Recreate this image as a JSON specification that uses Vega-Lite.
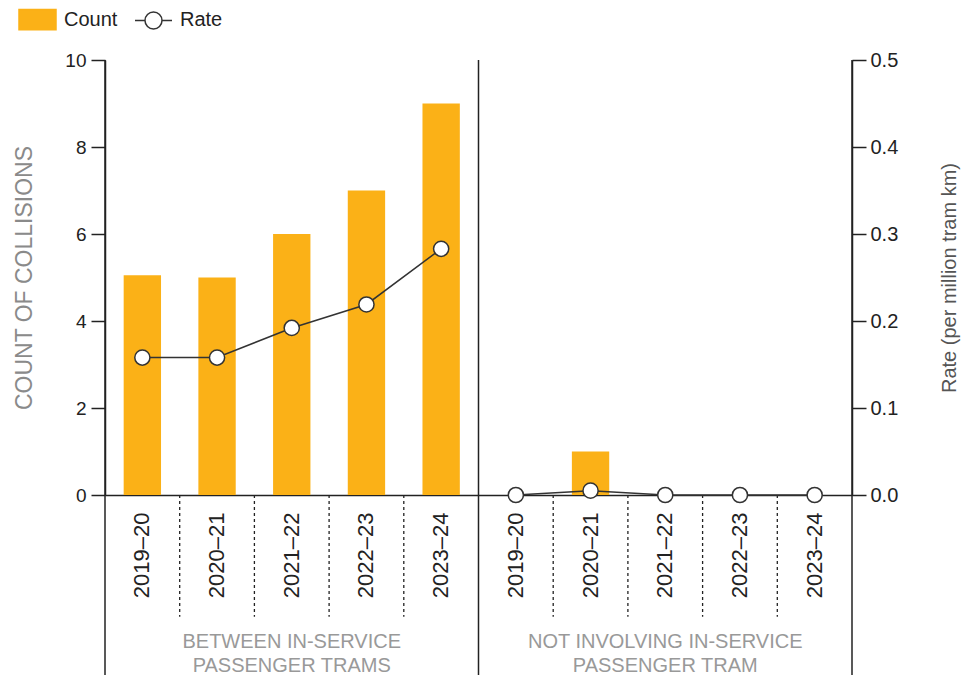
{
  "$schema": "https://vega.github.io/schema/vega-lite/v6.json",
  "width": 747,
  "height": 435,
  "autosize": {"type": "none"},
  "padding": {"left": 105, "top": 60, "right": 112, "bottom": 180},
  "background": "white",
  "config": {
    "view": {"stroke": null},
    "font": "Liberation Sans",
    "axis": {"grid": false, "domainColor": "#222222", "tickColor": "#222222", "domainWidth": 1.5, "tickWidth": 1.5, "labelColor": "#222222", "titleFontWeight": "normal"}
  },
  "data": {
    "values": [
      {"key": "B 2019–20", "count": 5.05, "rate": 0.158, "group": "B"},
      {"key": "B 2020–21", "count": 5.0, "rate": 0.158, "group": "B"},
      {"key": "B 2021–22", "count": 6.0, "rate": 0.192, "group": "B"},
      {"key": "B 2022–23", "count": 7.0, "rate": 0.219, "group": "B"},
      {"key": "B 2023–24", "count": 9.0, "rate": 0.283, "group": "B"},
      {"key": "N 2019–20", "count": 0, "rate": 0, "group": "N"},
      {"key": "N 2020–21", "count": 1, "rate": 0.005, "group": "N"},
      {"key": "N 2021–22", "count": 0, "rate": 0, "group": "N"},
      {"key": "N 2022–23", "count": 0, "rate": 0, "group": "N"},
      {"key": "N 2023–24", "count": 0, "rate": 0, "group": "N"}
    ]
  },
  "encoding": {
    "x": {
      "field": "key",
      "type": "nominal",
      "scale": {
        "domain": ["B 2019–20", "B 2020–21", "B 2021–22", "B 2022–23", "B 2023–24", "N 2019–20", "N 2020–21", "N 2021–22", "N 2022–23", "N 2023–24"],
        "paddingInner": 0,
        "paddingOuter": 0
      },
      "axis": {
        "title": null,
        "ticks": false,
        "labelAngle": 270,
        "labelAlign": "right",
        "labelBaseline": "middle",
        "labelFontSize": 22,
        "labelPadding": 17,
        "labelExpr": "substring(datum.value, 2)"
      }
    }
  },
  "layer": [
    {
      "layer": [
        {
          "mark": {"type": "bar", "width": {"band": 0.5}},
          "encoding": {
            "y": {
              "field": "count",
              "type": "quantitative",
              "scale": {"domain": [0, 10], "nice": false, "zero": true},
              "axis": {
                "orient": "left",
                "title": "COUNT OF COLLISIONS",
                "values": [0, 2, 4, 6, 8, 10],
                "tickSize": 14,
                "labelPadding": 5,
                "labelFontSize": 19,
                "titleFontSize": 23,
                "titleColor": "#8a8a8a",
                "titlePadding": 28
              }
            },
            "color": {
              "datum": "Count",
              "scale": {"domain": ["Count", "Rate"], "range": ["#FBB117", "#333333"]},
              "legend": {
                "title": null,
                "orient": "none",
                "legendX": -87,
                "legendY": -60,
                "direction": "horizontal",
                "padding": 0,
                "labelFontSize": 20,
                "labelColor": "#222222",
                "labelOffset": 7,
                "columnPadding": 14,
                "symbolSize": 1369,
                "symbolStrokeWidth": 1.5,
                "encode": {
                  "symbols": {
                    "enter": {
                      "fill": {"signal": "datum.value === 'Count' ? '#FBB117' : 'transparent'"},
                      "fillOpacity": {"signal": "datum.value === 'Count' ? 1 : 0"}
                    },
                    "update": {
                      "shape": {"signal": "datum.value === 'Count' ? 'M-1,-0.55H1V0.55H-1Z' : 'M-1,0H-0.46M0.46,0H1M-0.46,0A0.46,0.46 0 1,0 0.46,0A0.46,0.46 0 1,0 -0.46,0'"},
                      "fill": {"signal": "datum.value === 'Count' ? '#FBB117' : 'transparent'"},
                      "fillOpacity": {"signal": "datum.value === 'Count' ? 1 : 0"},
                      "stroke": {"signal": "datum.value === 'Count' ? '#FBB117' : '#333333'"},
                      "strokeWidth": {"value": 1.5},
                      "size": {"value": 1369},
                      "opacity": {"value": 1},
                      "strokeOpacity": {"value": 1}
                    }
                  }
                }
              }
            }
          }
        },
        {
          "data": {"values": [
            {"key": "B 2020–21"}, {"key": "B 2021–22"}, {"key": "B 2022–23"}, {"key": "B 2023–24"},
            {"key": "N 2020–21"}, {"key": "N 2021–22"}, {"key": "N 2022–23"}, {"key": "N 2023–24"}
          ]},
          "mark": {"type": "rule", "strokeDash": [3, 3], "color": "#222222", "strokeWidth": 1.3},
          "encoding": {
            "x": {"field": "key", "type": "nominal", "bandPosition": 0},
            "y": {"datum": 0, "type": "quantitative"},
            "y2": {"datum": -2.8}
          }
        },
        {
          "data": {"values": [{"key": "B 2019–20"}, {"key": "N 2019–20"}]},
          "mark": {"type": "rule", "color": "#222222", "strokeWidth": 1.5},
          "encoding": {
            "x": {"field": "key", "type": "nominal", "bandPosition": 0},
            "y": {"datum": 10, "type": "quantitative"},
            "y2": {"datum": -4.2}
          }
        },
        {
          "data": {"values": [{"key": "N 2023–24"}]},
          "mark": {"type": "rule", "color": "#222222", "strokeWidth": 1.5},
          "encoding": {
            "x": {"field": "key", "type": "nominal", "bandPosition": 1},
            "y": {"datum": 10, "type": "quantitative"},
            "y2": {"datum": -4.2}
          }
        },
        {
          "data": {"values": [
            {"key": "B 2021–22", "label": "BETWEEN IN-SERVICE|PASSENGER TRAMS"},
            {"key": "N 2021–22", "label": "NOT INVOLVING IN-SERVICE|PASSENGER TRAM"}
          ]},
          "mark": {"type": "text", "lineBreak": "|", "fontSize": 20, "color": "#999999", "baseline": "top", "lineHeight": 24, "align": "center"},
          "encoding": {
            "x": {"field": "key", "type": "nominal"},
            "y": {"datum": -3.14, "type": "quantitative"},
            "text": {"field": "label", "type": "nominal"}
          }
        }
      ]
    },
    {
      "layer": [
        {
          "mark": {"type": "line", "strokeWidth": 1.5},
          "encoding": {
            "y": {
              "field": "rate",
              "type": "quantitative",
              "scale": {"domain": [0, 0.5], "nice": false},
              "axis": {
                "orient": "right",
                "title": "Rate (per million tram km)",
                "values": [0, 0.1, 0.2, 0.3, 0.4, 0.5],
                "format": ".1f",
                "tickSize": 14,
                "labelPadding": 4,
                "labelFontSize": 20,
                "titleFontSize": 20,
                "titleColor": "#555555",
                "titleAngle": 270,
                "titlePadding": 62
              }
            },
            "detail": {"field": "group", "type": "nominal"},
            "color": {"datum": "Rate"}
          }
        },
        {
          "mark": {"type": "point", "filled": true, "fill": "#ffffff", "stroke": "#333333", "strokeWidth": 1.5, "size": 230, "opacity": 1},
          "encoding": {
            "y": {"field": "rate", "type": "quantitative"}
          }
        }
      ]
    }
  ],
  "resolve": {"scale": {"y": "independent"}}
}
